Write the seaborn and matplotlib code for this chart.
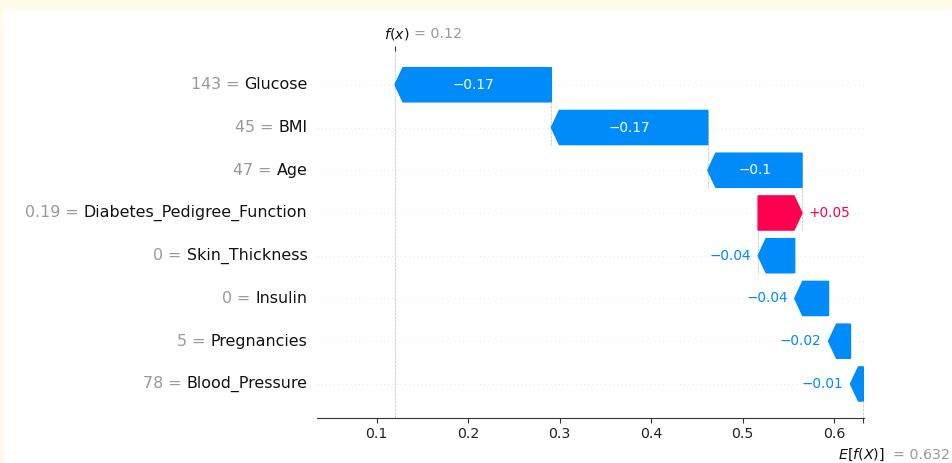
import re
import numpy as np
import pandas as pd
import seaborn as sns
import matplotlib
matplotlib.use("Agg")
import matplotlib.pyplot as plt
from matplotlib.patches import Rectangle

# ---- data -------------------------------------------------------------
features = ["Glucose", "BMI", "Age", "Diabetes_Pedigree_Function",
            "Skin_Thickness", "Insulin", "Pregnancies", "Blood_Pressure"]
feature_values = ["143", "45", "47", "0.19", "0", "0", "5", "78"]
shap_values = [-0.171, -0.171, -0.103, 0.048, -0.040, -0.037, -0.024, -0.014]
base_value = 0.632
x_ticks = [0.1, 0.2, 0.3, 0.4, 0.5, 0.6]

RED = "#ff0051"
BLUE = "#008bfb"


def format_value(v, fmt):
    s = fmt % v
    s = re.sub(r"\.?0+$", "", s)
    if s[0] == "-":
        s = "\u2212" + s[1:]
    return s


df = pd.DataFrame({"feature": features, "value": feature_values, "shap": shap_values})
n = len(df)
fx = base_value + df["shap"].sum()
df["row"] = np.arange(n)[::-1]
# each arrow ends where the previous one (from the top) starts
df["end"] = fx - df["shap"].cumsum().shift(fill_value=0.0)
df["start"] = df["end"] - df["shap"]

# ---- figure -----------------------------------------------------------
sns.set_theme(style="white")
plt.rcParams["font.family"] = ["DejaVu Sans"]

W, H = 953, 463
DPI = 100
fig = plt.figure(figsize=(W / DPI, H / DPI), dpi=DPI, facecolor="white")
fig.add_artist(Rectangle((0, 1 - 9 / H), 1, 9 / H, transform=fig.transFigure,
                         facecolor="#fffbe6", edgecolor="none", zorder=0))
fig.add_artist(Rectangle((0, 0), 3 / W, 1, transform=fig.transFigure,
                         facecolor="#fffbe6", edgecolor="none", zorder=0))

ax_l, ax_r, ax_b, ax_t = 317.3, 864.3, 417.7, 51.0
ax = fig.add_axes([ax_l / W, (H - ax_b) / H, (ax_r - ax_l) / W, (ax_b - ax_t) / H])
ax.set_facecolor("none")
ax.set_xlim(0.0351, 0.6331)
ax.set_ylim(-0.79, n - 1 + 0.79)

px_per_unit = (ax_r - ax_l) / (0.6331 - 0.0351)
head_len = 8.0 / px_per_unit
bar_width = 0.8

# row guide lines
for r in df["row"]:
    ax.axhline(r, color="#cccccc", lw=0.5, dashes=(1, 5), zorder=-1)

# prediction and expected-value markers
ax.axvline(fx, 0, 1, color="#bbbbbb", ls="--", lw=0.5, zorder=-1)
ax.axvline(base_value, 0, 1 / n, color="#bbbbbb", ls="--", lw=0.5, zorder=-1)

fig.canvas.draw()
renderer = fig.canvas.get_renderer()
pt_per_px = 72.0 / DPI

for i, rec in df.iterrows():
    v = rec["shap"]
    color = RED if v >= 0 else BLUE
    ax.arrow(rec["start"], rec["row"], v, 0,
             width=bar_width, head_width=bar_width,
             head_length=min(abs(v), head_len), length_includes_head=True,
             color=color, lw=1.0, zorder=3)
    if i < 4:
        ax.plot([rec["start"], rec["start"]], [rec["row"] - 1 - 0.4, rec["row"] + 0.4],
                color="#bbbbbb", ls="--", lw=0.5, zorder=-1)

    label = format_value(v, "%+0.02f")
    txt = ax.text((rec["start"] + rec["end"]) / 2, rec["row"], label,
                  ha="center", va="center", color="white", fontsize=9.8, zorder=4)
    tw = txt.get_window_extent(renderer=renderer).width
    if tw + 12 > abs(v) * px_per_unit:
        txt.remove()
        if v >= 0:
            ax.annotate(label, xy=(rec["end"], rec["row"]), xytext=(5, 0),
                        textcoords="offset points", ha="left", va="center",
                        color=RED, fontsize=9.8)
        else:
            ax.annotate(label, xy=(rec["end"], rec["row"]), xytext=(-5, 0),
                        textcoords="offset points", ha="right", va="center",
                        color=BLUE, fontsize=9.8)

# feature labels: grey "value =" followed by the black feature name
LABEL_PAD = 7.2
LABEL_SIZE = 11.4
for _, rec in df.iterrows():
    name = ax.annotate(rec["feature"], xy=(0, rec["row"]),
                       xycoords=("axes fraction", "data"), xytext=(-LABEL_PAD, 0),
                       textcoords="offset points", ha="right", va="center",
                       color="#111111", fontsize=LABEL_SIZE)
    probe = ax.text(0, 0, f"{rec['value']} = {rec['feature']}", fontsize=LABEL_SIZE)
    full_w = probe.get_window_extent(renderer=renderer).width
    probe.remove()
    ax.annotate(f"{rec['value']} =", xy=(0, rec["row"]),
                xycoords=("axes fraction", "data"),
                xytext=(-LABEL_PAD - full_w * pt_per_px, 0),
                textcoords="offset points", ha="left", va="center",
                color="#999999", fontsize=LABEL_SIZE)

ax.set_yticks([])
ax.set_xticks(x_ticks + [base_value])
ax.set_xticklabels([f"{t:g}" for t in x_ticks] + [""], fontsize=10.2, color="#222222")
ax.tick_params(axis="x", bottom=True, length=3.5, width=0.8, color="#333333", pad=3.5)
sns.despine(ax=ax, left=True, top=True, right=True)
ax.spines["bottom"].set_color("#333333")
ax.spines["bottom"].set_linewidth(0.8)

# top tick for the model output
sec = ax.secondary_xaxis("top")
sec.set_xticks([fx])
sec.set_xticklabels([""])
sec.tick_params(length=3.5, width=0.8, color="#333333")
sec.spines["top"].set_visible(False)

fx_txt = format_value(fx, "%0.03f")
ax.annotate("$f(x)$", xy=(fx, 1), xycoords=("data", "axes fraction"),
            xytext=(-7.9, 12.2), textcoords="offset points", ha="left", va="center",
            fontsize=10.3, color="#111111")
ax.annotate(f"= {fx_txt}", xy=(fx, 1), xycoords=("data", "axes fraction"),
            xytext=(13.7, 12.2), textcoords="offset points", ha="left", va="center",
            fontsize=10.3, color="#999999")

base_txt = format_value(base_value, "%0.03f")
ax.annotate("$E[f(X)]$", xy=(base_value, 0), xycoords=("data", "axes fraction"),
            xytext=(-18.0, -27.0), textcoords="offset points", ha="left", va="center",
            fontsize=10.3, color="#111111")
ax.annotate(f"= {base_txt}", xy=(base_value, 0), xycoords=("data", "axes fraction"),
            xytext=(21.4, -27.0), textcoords="offset points", ha="left", va="center",
            fontsize=10.3, color="#999999")

fig.savefig("out.png", dpi=DPI, facecolor=fig.get_facecolor())
